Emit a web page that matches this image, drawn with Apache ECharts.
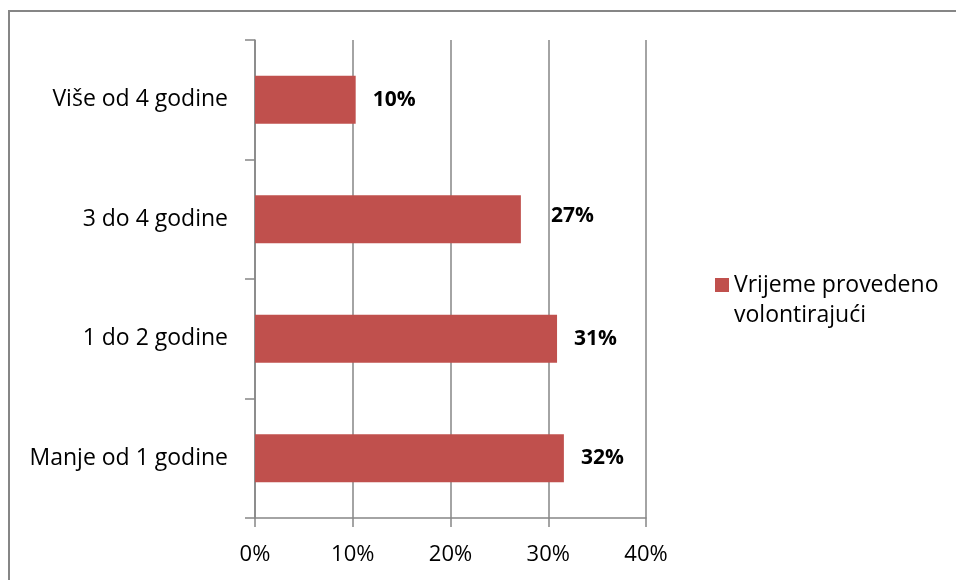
<!DOCTYPE html>
<html>
<head>
<meta charset="utf-8">
<script src="https://cdn.jsdelivr.net/npm/echarts@6/dist/echarts.min.js"></script>
<style>
html,body{margin:0;padding:0;background:#fff;}
#c{width:956px;height:580px;}
</style>
</head>
<body>
<div id="c"></div>
<script>
const categories = ['Manje od 1 godine', '1 do 2 godine', '3 do 4 godine', 'Više od 4 godine'];
const values = [31.6, 30.9, 27.2, 10.3];
const valueLabels = ['32%', '31%', '27%', '10%'];
const tickLabels = ['0%', '10%', '20%', '30%', '40%'];
const seriesName = 'Vrijeme provedeno volontirajući';

const FONT = 'Open Sans';
const chart = echarts.init(document.getElementById('c'), null, {renderer: 'canvas'});
const axisColor = '#868686';

chart.setOption({
  animation: false,
  backgroundColor: '#fff',
  graphic: [{
    type: 'rect',
    shape: {x: 9, y: 11, width: 1000, height: 700},
    style: {fill: 'none', stroke: axisColor, lineWidth: 2},
    silent: true
  }],
  grid: {left: 255, right: 310, top: 40, bottom: 62},
  legend: {
    data: [seriesName],
    left: 710, top: 235,
    itemWidth: 14, itemHeight: 14,
    itemGap: 8,
    icon: 'rect',
    formatter: () => ' \nVrijeme provedeno\nvolontirajući',
    textStyle: {fontFamily: FONT, fontSize: 23, color: '#000', lineHeight: 30}
  },
  xAxis: {
    type: 'value',
    min: 0, max: 40, interval: 10,
    axisLine: {show: true, lineStyle: {color: axisColor, width: 1.5}},
    axisTick: {show: true, length: 9, lineStyle: {color: axisColor, width: 1.5}},
    splitLine: {show: true, lineStyle: {color: axisColor, width: 1.5}},
    axisLabel: {
      fontFamily: FONT, fontSize: 22, color: '#000', margin: 26,
      formatter: (v) => tickLabels[Math.round(v / 10)]
    }
  },
  yAxis: {
    type: 'category',
    data: categories,
    axisLine: {show: true, lineStyle: {color: axisColor, width: 1.5}},
    axisTick: {show: true, length: 10, lineStyle: {color: axisColor, width: 1.5}},
    axisLabel: {fontFamily: FONT, fontSize: 23, color: '#000', margin: 27}
  },
  series: [{
    name: seriesName,
    type: 'bar',
    data: values.map((v, i) => ({
      value: v,
      label: i === 2 ? {distance: 30, offset: [0, -3]} : {}
    })),
    barCategoryGap: '60%',
    itemStyle: {color: '#C0504D'},
    label: {
      show: true,
      position: 'right',
      distance: 17,
      fontFamily: FONT, fontSize: 21, fontWeight: 'bold', color: '#000',
      formatter: (p) => valueLabels[p.dataIndex]
    }
  }]
});
</script>
</body>
</html>
